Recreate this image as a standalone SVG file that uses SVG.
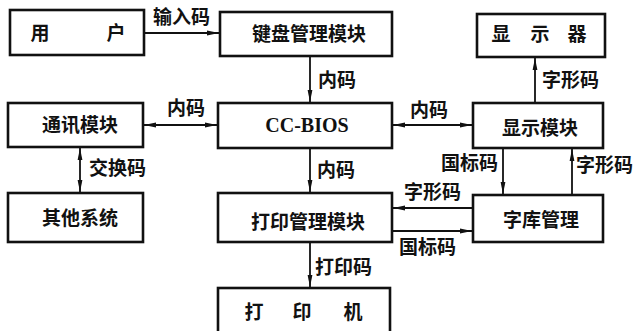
<svg xmlns="http://www.w3.org/2000/svg" width="633" height="331" viewBox="0 0 633 331">
<style>
.box{fill:#fff;stroke:#111;stroke-width:2.6}
.t{font-family:"Noto Sans CJK SC","Noto Sans",sans-serif;font-weight:bold;font-size:19px;fill:#111;text-anchor:middle}
.l{font-family:"Noto Sans CJK SC","Noto Sans",sans-serif;font-weight:bold;font-size:19px;fill:#111}
.s{font-family:"Liberation Serif",serif;font-weight:bold;font-size:20px;fill:#111;text-anchor:middle}
.c{stroke:#111;stroke-width:1.8;fill:none}
</style>
<defs>
<marker id="a" viewBox="0 0 12 6" refX="12" refY="3" markerWidth="12" markerHeight="6" markerUnits="userSpaceOnUse" orient="auto-start-reverse">
<path d="M0,0.6 L12,3 L0,5.4 Z" fill="#111"/>
</marker>
</defs>
<rect width="633" height="331" fill="#fff"/>
<g id="connectors">
<line class="c" x1="144" y1="33" x2="219" y2="33" marker-end="url(#a)"/>
<line class="c" x1="310" y1="56" x2="310" y2="102" marker-end="url(#a)"/>
<line class="c" x1="144" y1="125" x2="217" y2="125" marker-start="url(#a)" marker-end="url(#a)"/>
<line class="c" x1="393" y1="125" x2="472" y2="125" marker-start="url(#a)" marker-end="url(#a)"/>
<line class="c" x1="535" y1="103" x2="535" y2="58" marker-end="url(#a)"/>
<line class="c" x1="80" y1="148" x2="80" y2="192" marker-start="url(#a)" marker-end="url(#a)"/>
<line class="c" x1="310" y1="148" x2="310" y2="192" marker-end="url(#a)"/>
<line class="c" x1="503" y1="148" x2="503" y2="194" marker-end="url(#a)"/>
<line class="c" x1="572" y1="195" x2="572" y2="149" marker-end="url(#a)"/>
<line class="c" x1="473" y1="208" x2="393" y2="208" marker-end="url(#a)"/>
<line class="c" x1="392" y1="231" x2="472" y2="231" marker-end="url(#a)"/>
<line class="c" x1="310" y1="242" x2="310" y2="287" marker-end="url(#a)"/>
<text class="l" x="153" y="24">输入码</text>
<text class="l" x="318" y="87">内码</text>
<text class="l" x="167" y="115">内码</text>
<text class="l" x="410" y="117">内码</text>
<text class="l" x="542" y="87">字形码</text>
<text class="l" x="89" y="175">交换码</text>
<text class="l" x="317" y="177">内码</text>
<text class="l" x="441" y="170">国标码</text>
<text class="l" x="576" y="172">字形码</text>
<text class="l" x="404" y="199">字形码</text>
<text class="l" x="399" y="254">国标码</text>
<text class="l" x="315" y="274">打印码</text>
</g>
<g id="user"><rect class="box" x="10" y="10" width="134" height="45"/><text class="t" x="40" y="40">用</text><text class="t" x="116" y="40">户</text></g>
<g id="keyboard"><rect class="box" x="220" y="12" width="172" height="44"/><text class="t" x="309" y="41">键盘管理模块</text></g>
<g id="display"><rect class="box" x="477" y="14" width="128" height="43"/><text class="t" x="501" y="41">显</text><text class="t" x="540" y="41">示</text><text class="t" x="577" y="41">器</text></g>
<g id="comm"><rect class="box" x="8" y="103" width="135" height="44"/><text class="t" x="80" y="132">通讯模块</text></g>
<g id="ccbios"><rect class="box" x="218" y="103" width="174" height="45"/><text class="s" x="307" y="132">CC-BIOS</text></g>
<g id="dispmod"><rect class="box" x="473" y="103" width="130" height="45"/><text class="t" x="540" y="135">显示模块</text></g>
<g id="other"><rect class="box" x="8" y="193" width="135" height="49"/><text class="t" x="80" y="225">其他系统</text></g>
<g id="printmgr"><rect class="box" x="218" y="193" width="174" height="49"/><text class="t" x="308" y="229">打印管理模块</text></g>
<g id="fontlib"><rect class="box" x="473" y="195" width="130" height="47"/><text class="t" x="541" y="227">字库管理</text></g>
<g id="printer"><rect class="box" x="218" y="288" width="172" height="50"/><text class="t" x="254" y="319">打</text><text class="t" x="302" y="319">印</text><text class="t" x="353" y="319">机</text></g>
</svg>
